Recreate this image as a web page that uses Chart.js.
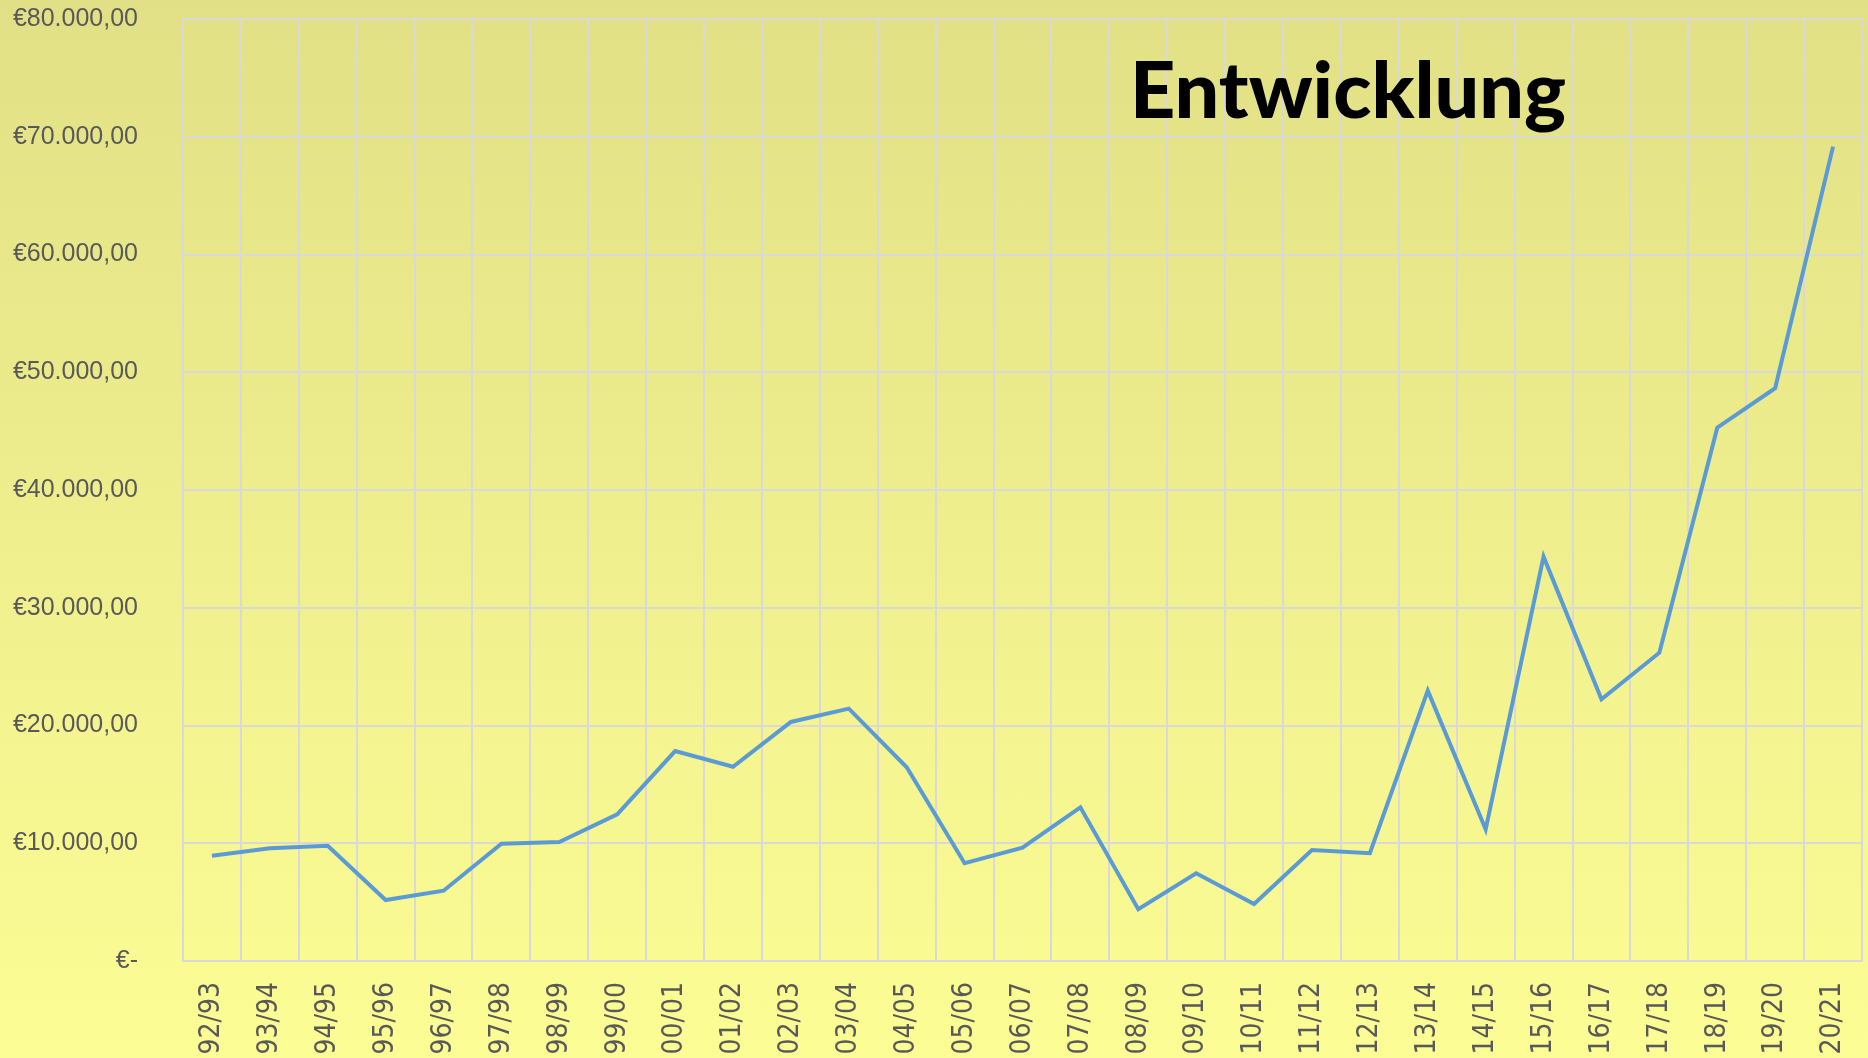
<!DOCTYPE html>
<html>
<head>
<meta charset="utf-8">
<title>Entwicklung</title>
<script src="https://cdn.jsdelivr.net/npm/chart.js@4"></script>
<style>
  html, body { margin: 0; padding: 0; }
  body {
    width: 1868px;
    height: 1058px;
    overflow: hidden;
    background: linear-gradient(to bottom, #e1e086 0%, #fdfd95 100%);
  }
  #wrap { position: relative; width: 1868px; height: 1058px; }
</style>
</head>
<body>
<div id="wrap"><canvas id="chart"></canvas></div>
<script>
// ── data ──
const seasons = [
  '92/93', '93/94', '94/95', '95/96', '96/97', '97/98', '98/99', '99/00',
  '00/01', '01/02', '02/03', '03/04', '04/05', '05/06', '06/07', '07/08',
  '08/09', '09/10', '10/11', '11/12', '12/13', '13/14', '14/15', '15/16',
  '16/17', '17/18', '18/19', '19/20', '20/21'
];
const amounts = [
  8940, 9570, 9790, 5180, 5970, 9960, 10100, 12460,
  17830, 16500, 20300, 21430, 16450, 8300, 9620, 13050,
  4390, 7450, 4840, 9430, 9150, 22960, 11180, 34340,
  22220, 26180, 45290, 48640, 69160
];
const yMin = 0;
const yMax = 80000;
const yStep = 10000;
const chartTitle = 'Entwicklung';

const GRID = '#d9d9d9';
const TEXT = '#595959';

function euro(v) {
  if (v === 0) return '€-';
  return '€' + v.toLocaleString('de-DE', { minimumFractionDigits: 2, maximumFractionDigits: 2 });
}

// title sits inside the plot, top right
const insideTitle = {
  id: 'insideTitle',
  afterDraw(chart) {
    const ctx = chart.ctx;
    ctx.save();
    ctx.font = '900 79px Lato';
    ctx.fillStyle = '#000';
    ctx.textAlign = 'left';
    ctx.textBaseline = 'alphabetic';
    ctx.fillText(chartTitle, 1130, 118);
    ctx.restore();
  }
};

new Chart(document.getElementById('chart'), {
  type: 'line',
  data: {
    labels: seasons,
    datasets: [{
      data: amounts,
      borderColor: '#5b9bd5',
      borderWidth: 4,
      pointRadius: 0,
      tension: 0,
      fill: false,
    }]
  },
  options: {
    responsive: true,
    maintainAspectRatio: false,
    animation: false,
    layout: { padding: { top: 19, right: 6, left: 0, bottom: 0 } },
    plugins: {
      legend: { display: false },
      tooltip: { enabled: false },
    },
    scales: {
      x: {
        offset: true,
        grid: { offset: true, color: GRID, lineWidth: 2, drawTicks: false },
        border: { color: GRID, width: 2 },
        ticks: {
          color: TEXT,
          font: { family: 'DejaVu Sans Condensed, DejaVu Sans', size: 28 },
          minRotation: 90,
          maxRotation: 90,
          autoSkip: false,
          padding: 21,
        },
        afterFit(s) {
          s.height = 97;
          s.paddingLeft = 0;
          s.paddingRight = 0;
        }
      },
      y: {
        min: yMin,
        max: yMax,
        grid: { color: GRID, lineWidth: 2, drawTicks: false },
        border: { display: false },
        ticks: {
          stepSize: yStep,
          color: TEXT,
          font: { family: 'Liberation Sans', size: 25 },
          padding: 45,
          callback: v => euro(v),
        },
        afterFit(s) {
          s.width = 183;
          s.paddingTop = 0;
          s.paddingBottom = 0;
        }
      }
    }
  },
  plugins: [insideTitle]
});
</script>
</body>
</html>
